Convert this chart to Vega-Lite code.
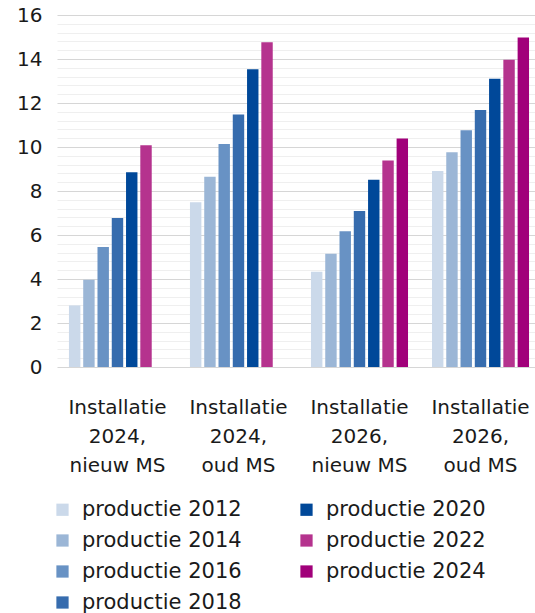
{
  "$schema": "https://vega.github.io/schema/vega-lite/v6.json",
  "width": 478,
  "height": 352,
  "autosize": "none",
  "padding": {"left": 57, "top": 15, "right": 0, "bottom": 246},
  "background": "white",
  "config": {
    "font": "DejaVu Sans",
    "view": {"stroke": null},
    "axis": {"labelFont": "DejaVu Sans", "labelColor": "#1a1a1a"},
    "legend": {"labelFont": "DejaVu Sans", "labelColor": "#1a1a1a"}
  },
  "data": {
    "values": [
      {"group": "Installatie|2024,|nieuw MS", "serie": "productie 2012", "value": 2.8},
      {"group": "Installatie|2024,|nieuw MS", "serie": "productie 2014", "value": 3.97},
      {"group": "Installatie|2024,|nieuw MS", "serie": "productie 2016", "value": 5.45},
      {"group": "Installatie|2024,|nieuw MS", "serie": "productie 2018", "value": 6.77},
      {"group": "Installatie|2024,|nieuw MS", "serie": "productie 2020", "value": 8.85},
      {"group": "Installatie|2024,|nieuw MS", "serie": "productie 2022", "value": 10.08},
      {"group": "Installatie|2024,|oud MS", "serie": "productie 2012", "value": 7.49},
      {"group": "Installatie|2024,|oud MS", "serie": "productie 2014", "value": 8.65},
      {"group": "Installatie|2024,|oud MS", "serie": "productie 2016", "value": 10.14},
      {"group": "Installatie|2024,|oud MS", "serie": "productie 2018", "value": 11.48},
      {"group": "Installatie|2024,|oud MS", "serie": "productie 2020", "value": 13.53},
      {"group": "Installatie|2024,|oud MS", "serie": "productie 2022", "value": 14.76},
      {"group": "Installatie|2026,|nieuw MS", "serie": "productie 2012", "value": 4.33},
      {"group": "Installatie|2026,|nieuw MS", "serie": "productie 2014", "value": 5.15},
      {"group": "Installatie|2026,|nieuw MS", "serie": "productie 2016", "value": 6.17},
      {"group": "Installatie|2026,|nieuw MS", "serie": "productie 2018", "value": 7.09},
      {"group": "Installatie|2026,|nieuw MS", "serie": "productie 2020", "value": 8.51},
      {"group": "Installatie|2026,|nieuw MS", "serie": "productie 2022", "value": 9.39},
      {"group": "Installatie|2026,|nieuw MS", "serie": "productie 2024", "value": 10.39},
      {"group": "Installatie|2026,|oud MS", "serie": "productie 2012", "value": 8.91},
      {"group": "Installatie|2026,|oud MS", "serie": "productie 2014", "value": 9.76},
      {"group": "Installatie|2026,|oud MS", "serie": "productie 2016", "value": 10.76},
      {"group": "Installatie|2026,|oud MS", "serie": "productie 2018", "value": 11.68},
      {"group": "Installatie|2026,|oud MS", "serie": "productie 2020", "value": 13.1},
      {"group": "Installatie|2026,|oud MS", "serie": "productie 2022", "value": 13.97},
      {"group": "Installatie|2026,|oud MS", "serie": "productie 2024", "value": 14.98}
    ]
  },
  "mark": {"type": "bar"},
  "encoding": {
    "x": {
      "field": "group",
      "type": "nominal",
      "sort": null,
      "scale": {"paddingInner": 0.198, "paddingOuter": 0.074, "align": 0.667},
      "axis": {
        "title": null,
        "labelAngle": 0,
        "labelExpr": "split(datum.label, '|')",
        "labelFontSize": 20,
        "labelLineHeight": 29,
        "labelPadding": 30,
        "labelOverlap": false,
        "ticks": false,
        "domain": false,
        "labelBaseline": "top"
      }
    },
    "xOffset": {
      "field": "serie",
      "type": "nominal",
      "scale": {
        "domain": ["productie 2012", "productie 2014", "productie 2016", "productie 2018", "productie 2020", "productie 2022", "productie 2024"],
        "paddingInner": 0.2,
        "paddingOuter": 0
      }
    },
    "y": {
      "field": "value",
      "type": "quantitative",
      "scale": {"domain": [0, 16], "nice": false},
      "axis": {
        "title": null,
        "values": [0, 0.4, 0.8, 1.2, 1.6, 2, 2.4, 2.8, 3.2, 3.6, 4, 4.4, 4.8, 5.2, 5.6, 6, 6.4, 6.8, 7.2, 7.6, 8, 8.4, 8.8, 9.2, 9.6, 10, 10.4, 10.8, 11.2, 11.6, 12, 12.4, 12.8, 13.2, 13.6, 14, 14.4, 14.8, 15.2, 15.6, 16],
        "labelExpr": "datum.value % 2 === 0 ? format(datum.value, 'd') : ''",
        "labelOverlap": false,
        "labelFontSize": 20,
        "labelPadding": 15,
        "ticks": false,
        "domain": false,
        "gridColor": {"condition": {"test": "datum.value % 2 === 0", "value": "#d6d6d6"}, "value": "#efefef"},
        "gridWidth": 1.2
      }
    },
    "color": {
      "field": "serie",
      "type": "nominal",
      "scale": {
        "domain": ["productie 2012", "productie 2014", "productie 2016", "productie 2018", "productie 2020", "productie 2022", "productie 2024"],
        "range": ["#cbd9ea", "#9bb6d6", "#6892c4", "#366cae", "#004899", "#b5338e", "#a1007a"]
      },
      "legend": {
        "title": null,
        "orient": "none",
        "legendX": -5,
        "legendY": 484,
        "columns": 2,
        "columnPadding": 54,
        "rowPadding": 9,
        "symbolType": "square",
        "symbolSize": 150,
        "symbolStrokeWidth": 0,
        "labelFontSize": 21,
        "labelOffset": 9,
        "padding": 0
      }
    }
  }
}
